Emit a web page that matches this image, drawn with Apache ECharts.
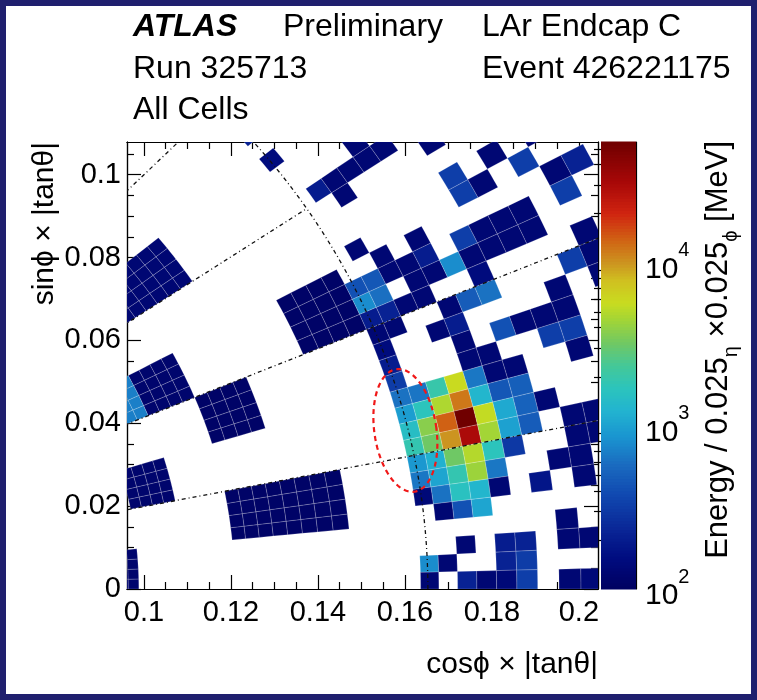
<!DOCTYPE html>
<html>
<head>
<meta charset="utf-8">
<title>LAr Endcap C - cell energies</title>
<script src="https://cdn.jsdelivr.net/npm/echarts@6/dist/echarts.min.js"></script>
<style>
html, body { margin: 0; padding: 0; background: #ffffff; }
#chart { width: 757px; height: 700px; }
</style>
</head>
<body>
<div id="chart"></div>
<script>
// ---------------------------------------------------------------
// Binning: 0.025 in eta (bin 0 starts at eta = 2.51), 2*pi/256 in phi
// ---------------------------------------------------------------
const ETA_ORIGIN = 2.51;
const ETA_STEP = 0.025;
const PHI_STEP = 2 * Math.PI / 256;

// Plot ranges
const X_RANGE = [0.0961, 0.2044];
const Y_RANGE = [0, 0.1079];
const Z_RANGE = [100, 55000];

// Tick positions
const xMajorTicks = [0.1, 0.12, 0.14, 0.16, 0.18, 0.2];
const xMinorTicks = [0.105, 0.11, 0.115, 0.125, 0.13, 0.135, 0.145, 0.15, 0.155,
                     0.165, 0.17, 0.175, 0.185, 0.19, 0.195];
const yMajorTicks = [0, 0.02, 0.04, 0.06, 0.08, 0.1];
const yMinorTicks = [0.005, 0.01, 0.015, 0.025, 0.03, 0.035, 0.045, 0.05, 0.055,
                     0.065, 0.07, 0.075, 0.085, 0.09, 0.095, 0.105];
const zLabelTicks = [100, 1000, 10000];
const zMajorTicks = [1000, 10000];
const zMinorTicks = [200, 300, 400, 500, 600, 700, 800, 900,
                     2000, 3000, 4000, 5000, 6000, 7000, 8000, 9000,
                     20000, 30000, 40000, 50000];

// Inner wheel: coarse cells spread over 4x4 fine bins (eta bin range, phi bin range, MeV)
const blockEtaFrom = [8, 0, 8, 12, 16, 16, 4, 20];
const blockEtaTo   = [15, 3, 11, 15, 19, 19, 11, 23];
const blockPhiFrom = [24, 16, 12, 16, 16, 8, 4, 0];
const blockPhiTo   = [27, 19, 15, 19, 19, 11, 7, 3];
const blockEnergy  = [130, 110, 110, 120, 700, 120, 110, 120];

// Outer wheel, main cluster: [eta bin, phi bin, energy MeV]
const clusterCells = [
  [-1, 14, 150], [-1, 13, 200], [-1, 12, 320],
  [-1, 11, 620], [-2, 11, 640], [-3, 11, 2000], [-4, 11, 5800], [-5, 11, 650], [-6, 11, 130], [-7, 11, 130],
  [-1, 10, 950], [-2, 10, 1700], [-3, 10, 4800], [-4, 10, 12000], [-5, 10, 1300], [-6, 10, 450], [-7, 10, 500],
  [-1, 9, 1500], [-2, 9, 3800], [-3, 9, 14000], [-4, 9, 55000], [-5, 9, 5500], [-6, 9, 1100], [-7, 9, 520], [-8, 9, 130],
  [-1, 8, 1900], [-2, 8, 3200], [-3, 8, 10000], [-4, 8, 30000], [-5, 8, 4500], [-6, 8, 1000], [-7, 8, 480],
  [-1, 7, 900], [-2, 7, 1200], [-3, 7, 3200], [-4, 7, 5000], [-5, 7, 1700], [-6, 7, 300],
  [-1, 6, 650], [-2, 6, 1050], [-3, 6, 1900], [-4, 6, 4300], [-5, 6, 650],
  [-1, 5, 140], [-2, 5, 620], [-3, 5, 1600], [-4, 5, 1300], [-5, 5, 130],
  [-2, 4, 130], [-3, 4, 420], [-4, 4, 1050]
];

// Outer wheel, low-phi cells
const lowPhiCells = [
  [-8, 3, 130],
  [-3, 2, 130], [-5, 2, 200], [-6, 2, 220], [-8, 2, 130], [-9, 2, 130],
  [-1, 1, 800], [-2, 1, 130], [-5, 1, 220], [-6, 1, 320],
  [-1, 0, 130], [-3, 0, 220], [-4, 0, 130], [-5, 0, 140], [-6, 0, 330], [-8, 0, 130], [-9, 0, 140],
  [-9, 8, 130], [-10, 8, 130], [-9, 7, 130], [-10, 7, 130], [-8, 6, 130], [-9, 6, 130],
  [-9, 5, 130], [-7, 5, 180]
];

// Outer wheel, high-phi cells
const highPhiCells = [
  [-5, 12, 130], [-6, 12, 130], [-9, 12, 330], [-10, 12, 330], [-10, 11, 130],
  [-5, 13, 130], [-7, 13, 420], [-8, 13, 130], [-9, 13, 130], [-10, 13, 130],
  [-4, 14, 130], [-5, 14, 200], [-10, 14, 130], [-12, 14, 130],
  [-1, 15, 130], [-2, 15, 130], [-5, 15, 130], [-6, 15, 480], [-7, 15, 620], [-11, 15, 330], [-12, 15, 130],
  [-1, 16, 200], [-2, 16, 220], [-3, 16, 130], [-4, 16, 130], [-7, 16, 150], [-12, 16, 130],
  [-1, 17, 800], [-2, 17, 600], [-4, 17, 130], [-5, 17, 130], [-6, 17, 800], [-7, 17, 130], [-8, 17, 130], [-9, 17, 130], [-10, 17, 130],
  [-1, 18, 420], [-2, 18, 450], [-3, 18, 130], [-4, 18, 130], [-5, 18, 200], [-7, 18, 330], [-8, 18, 130], [-9, 18, 130], [-10, 18, 130], [-12, 18, 330],
  [-3, 19, 130], [-5, 19, 130], [-12, 19, 130], [-13, 19, 220],
  [-2, 20, 130], [-8, 20, 330], [-9, 20, 130], [-11, 20, 330],
  [-8, 21, 330], [-10, 21, 130], [-12, 21, 130],
  [-3, 23, 130], [-8, 23, 130],
  [-2, 24, 200], [-3, 24, 130], [-4, 24, 130], [-5, 24, 130], [-6, 24, 130],
  [-5, 25, 130],
  [-1, 27, 150], [-1, 29, 220]
];

// Dash-dot guides: radial lines (phi, r from, r to) and the eta = 2.5 wheel boundary
const guidePhi   = [Math.PI / 16, Math.PI / 8, 3 * Math.PI / 16, Math.PI / 4];
const guideRFrom = [0.05, 0.05, 0.05, 0.05];
const guideRTo   = [0.30, 0.30, 0.16528, 0.16528];
const guideArcEta = [2.5];

// Dashed ellipse: centre (x, y), half sizes (x, y units), tilt in degrees
const ellipseShape = [0.16011, 0.03827, 0.00713, 0.01494, -8.5];

// Colour palette (fraction of log range -> colour)
const paletteStops = [
  [0.00, '#000060'], [0.07, '#000c80'], [0.14, '#0a2898'], [0.21, '#1048b0'],
  [0.28, '#1a6cc0'], [0.34, '#1a94d0'], [0.40, '#22b4d0'], [0.45, '#2cc4bc'],
  [0.50, '#44c898'], [0.55, '#70c864'], [0.60, '#a0d438'], [0.64, '#c8dc20'],
  [0.69, '#d0c020'], [0.73, '#cc9420'], [0.78, '#d06414'], [0.84, '#d02410'],
  [0.91, '#a80808'], [1.00, '#700000']
];

const FONT = '"Liberation Sans", Arial, Helvetica, sans-serif';

function hexToRgb(h) {
  return [parseInt(h.slice(1, 3), 16), parseInt(h.slice(3, 5), 16), parseInt(h.slice(5, 7), 16)];
}
function paletteColor(f) {
  f = Math.max(0, Math.min(1, f));
  for (let i = 1; i < paletteStops.length; i++) {
    if (f <= paletteStops[i][0]) {
      const a = paletteStops[i - 1], b = paletteStops[i];
      const t = (f - a[0]) / (b[0] - a[0]);
      const ca = hexToRgb(a[1]), cb = hexToRgb(b[1]);
      const c = ca.map((v, k) => Math.round(v + (cb[k] - v) * t));
      return 'rgb(' + c.join(',') + ')';
    }
  }
  return paletteStops[paletteStops.length - 1][1];
}
function energyColor(e) {
  const lo = Math.log10(Z_RANGE[0]), hi = Math.log10(Z_RANGE[1]);
  return paletteColor((Math.log10(e) - lo) / (hi - lo));
}

// Outline of one (eta, phi) bin in the (cos phi |tan theta|, sin phi |tan theta|) plane
function binOutline(n, j) {
  const etaLo = ETA_ORIGIN + n * ETA_STEP;
  const rOut = 1 / Math.sinh(etaLo);
  const rIn = 1 / Math.sinh(etaLo + ETA_STEP);
  const p0 = j * PHI_STEP;
  const pts = [];
  const seg = 3;
  for (let s = 0; s <= seg; s++) {
    const p = p0 + PHI_STEP * s / seg;
    pts.push([rOut * Math.cos(p), rOut * Math.sin(p)]);
  }
  for (let s = seg; s >= 0; s--) {
    const p = p0 + PHI_STEP * s / seg;
    pts.push([rIn * Math.cos(p), rIn * Math.sin(p)]);
  }
  return pts;
}

// Expand coarse inner-wheel cells into fine bins
const blockCells = [];
for (let b = 0; b < blockEnergy.length; b++) {
  for (let n = blockEtaFrom[b]; n <= blockEtaTo[b]; n++) {
    for (let j = blockPhiFrom[b]; j <= blockPhiTo[b]; j++) {
      blockCells.push([n, j, blockEnergy[b]]);
    }
  }
}
const allCells = blockCells.concat(clusterCells, lowPhiCells, highPhiCells);

const guideData = [];
for (let i = 0; i < guidePhi.length; i++) guideData.push([0, guidePhi[i], guideRFrom[i], guideRTo[i]]);
for (let i = 0; i < guideArcEta.length; i++) guideData.push([1, guideArcEta[i], 0, 1.0]);

// Colour bar slices
const barSlices = [];
const NSLICE = 150;
for (let i = 0; i < NSLICE; i++) {
  const v0 = Z_RANGE[0] * Math.pow(Z_RANGE[1] / Z_RANGE[0], i / NSLICE);
  const v1 = Z_RANGE[0] * Math.pow(Z_RANGE[1] / Z_RANGE[0], (i + 1) / NSLICE);
  barSlices.push([0, v0, v1]);
}

const axisLineStyle = { color: '#000', width: 1.2 };
const tickStyle = { color: '#000', width: 1.2 };

function frameXAxis(position, ticks, len, withLabels) {
  return {
    gridIndex: 0, type: 'value', min: X_RANGE[0], max: X_RANGE[1], position: position,
    axisLine: { show: true, onZero: false, lineStyle: axisLineStyle },
    axisTick: { show: true, inside: true, length: len, customValues: ticks, lineStyle: tickStyle },
    axisLabel: withLabels ? {
      show: true, customValues: ticks, margin: 9, fontSize: 29, color: '#000', fontFamily: FONT
    } : { show: false },
    splitLine: { show: false }
  };
}
function frameYAxis(position, ticks, len, withLabels) {
  return {
    gridIndex: 0, type: 'value', min: Y_RANGE[0], max: Y_RANGE[1], position: position,
    axisLine: { show: true, onZero: false, lineStyle: axisLineStyle },
    axisTick: { show: true, inside: true, length: len, customValues: ticks, lineStyle: tickStyle },
    axisLabel: withLabels ? {
      show: true, customValues: ticks, margin: 6, fontSize: 29, color: '#000', fontFamily: FONT
    } : { show: false },
    splitLine: { show: false }
  };
}

const chart = echarts.init(document.getElementById('chart'), null, { renderer: 'canvas' });

const option = {
  backgroundColor: '#ffffff',
  animation: false,
  grid: [
    { left: 127, top: 142, width: 471, height: 447, show: false },
    { left: 601, top: 142, width: 35, height: 447, show: false }
  ],
  xAxis: [
    frameXAxis('bottom', xMajorTicks, 14, true),
    frameXAxis('bottom', xMinorTicks, 7, false),
    frameXAxis('top', xMajorTicks, 14, false),
    frameXAxis('top', xMinorTicks, 7, false),
    { gridIndex: 1, type: 'value', min: 0, max: 1, show: false }
  ],
  yAxis: [
    frameYAxis('left', yMajorTicks, 14, true),
    frameYAxis('left', yMinorTicks, 7, false),
    frameYAxis('right', yMajorTicks, 14, false),
    frameYAxis('right', yMinorTicks, 7, false),
    {
      gridIndex: 1, type: 'log', logBase: 10, min: Z_RANGE[0], max: Z_RANGE[1], position: 'right',
      axisLine: { show: true, onZero: false, lineStyle: axisLineStyle },
      axisTick: { show: true, inside: true, length: 14, customValues: zMajorTicks, lineStyle: tickStyle },
      axisLabel: {
        show: true, customValues: zLabelTicks, margin: 9,
        formatter: function (v) {
          return '{b|10}{s|' + Math.round(Math.log10(v)) + '}';
        },
        rich: {
          b: { fontSize: 30, fontFamily: FONT, color: '#000', lineHeight: 44, verticalAlign: 'bottom' },
          s: { fontSize: 20, fontFamily: FONT, color: '#000', lineHeight: 20, verticalAlign: 'top' }
        }
      },
      splitLine: { show: false }
    },
    {
      gridIndex: 1, type: 'log', logBase: 10, min: Z_RANGE[0], max: Z_RANGE[1], position: 'right',
      axisLine: { show: false },
      axisTick: { show: true, inside: true, length: 7, customValues: zMinorTicks, lineStyle: tickStyle },
      axisLabel: { show: false },
      splitLine: { show: false }
    }
  ],
  series: [
    {
      name: 'cells',
      type: 'custom',
      xAxisIndex: 0, yAxisIndex: 0,
      clip: true,
      silent: true,
      z: 2,
      data: allCells,
      renderItem: function (params, api) {
        const pts = binOutline(api.value(0), api.value(1)).map(function (p) { return api.coord(p); });
        return {
          type: 'polygon',
          shape: { points: pts },
          style: { fill: energyColor(api.value(2)), stroke: 'rgba(255,255,255,0.28)', lineWidth: 0.7 }
        };
      }
    },
    {
      name: 'guides',
      type: 'custom',
      xAxisIndex: 0, yAxisIndex: 0,
      clip: true,
      silent: true,
      z: 5,
      data: guideData,
      renderItem: function (params, api) {
        const kind = api.value(0);
        const pts = [];
        if (kind === 0) {
          const phi = api.value(1), r0 = api.value(2), r1 = api.value(3);
          pts.push(api.coord([r0 * Math.cos(phi), r0 * Math.sin(phi)]));
          pts.push(api.coord([r1 * Math.cos(phi), r1 * Math.sin(phi)]));
        } else {
          const r = 1 / Math.sinh(api.value(1));
          const p0 = api.value(2), p1 = api.value(3);
          for (let s = 0; s <= 80; s++) {
            const p = p0 + (p1 - p0) * s / 80;
            pts.push(api.coord([r * Math.cos(p), r * Math.sin(p)]));
          }
        }
        return {
          type: 'polyline',
          shape: { points: pts },
          style: { fill: null, stroke: '#111', lineWidth: 1.3, lineDash: [4, 3, 1, 3] }
        };
      }
    },
    {
      name: 'ellipse',
      type: 'custom',
      xAxisIndex: 0, yAxisIndex: 0,
      clip: true,
      silent: true,
      z: 6,
      data: [ellipseShape],
      renderItem: function (params, api) {
        const c = api.coord([api.value(0), api.value(1)]);
        const sz = api.size([api.value(2), api.value(3)]);
        const t = api.value(4) * Math.PI / 180;
        const pts = [];
        for (let s = 0; s <= 120; s++) {
          const a = 2 * Math.PI * s / 120;
          const ex = sz[0] * Math.cos(a), ey = sz[1] * Math.sin(a);
          pts.push([c[0] + ex * Math.cos(t) - ey * Math.sin(t), c[1] + ex * Math.sin(t) + ey * Math.cos(t)]);
        }
        return {
          type: 'polyline',
          shape: { points: pts },
          style: { fill: null, stroke: '#f01818', lineWidth: 2.2, lineDash: [5, 4] }
        };
      }
    },
    {
      name: 'palette',
      type: 'custom',
      xAxisIndex: 4, yAxisIndex: 4,
      silent: true,
      data: barSlices,
      renderItem: function (params, api) {
        const a = api.coord([0, api.value(1)]);
        const b = api.coord([1, api.value(2)]);
        const mid = Math.sqrt(api.value(1) * api.value(2));
        return {
          type: 'rect',
          shape: { x: a[0], y: b[1] - 0.5, width: b[0] - a[0], height: a[1] - b[1] + 1 },
          style: { fill: energyColor(mid) }
        };
      }
    }
  ],
  graphic: [
    { type: 'rect', silent: true, z: 100,
      shape: { x: 0, y: 0, width: 757, height: 700 },
      style: { fill: null, stroke: '#1f1f6e', lineWidth: 12 } },
    { type: 'text', x: 133, y: 27, silent: true,
      style: { text: 'ATLAS', font: 'italic bold 32px ' + FONT, fill: '#000', verticalAlign: 'middle' } },
    { type: 'text', x: 283, y: 27, silent: true,
      style: { text: 'Preliminary', font: '32px ' + FONT, fill: '#000', verticalAlign: 'middle' } },
    { type: 'text', x: 482, y: 27, silent: true,
      style: { text: 'LAr Endcap C', font: '32px ' + FONT, fill: '#000', verticalAlign: 'middle' } },
    { type: 'text', x: 133, y: 69, silent: true,
      style: { text: 'Run 325713', font: '32px ' + FONT, fill: '#000', verticalAlign: 'middle' } },
    { type: 'text', x: 482, y: 69, silent: true,
      style: { text: 'Event 426221175', font: '32px ' + FONT, fill: '#000', verticalAlign: 'middle' } },
    { type: 'text', x: 133, y: 110, silent: true,
      style: { text: 'All Cells', font: '32px ' + FONT, fill: '#000', verticalAlign: 'middle' } },
    { type: 'text', x: 598, y: 665, silent: true,
      style: { text: 'cos\u03D5 \u00D7 |tan\u03B8|', font: '30px ' + FONT, fill: '#000', align: 'right', verticalAlign: 'middle' } },
    { type: 'text', x: 45, y: 142, rotation: Math.PI / 2, silent: true,
      style: { text: 'sin\u03D5 \u00D7 |tan\u03B8|', font: '30px ' + FONT, fill: '#000', align: 'right', verticalAlign: 'middle' } },
    { type: 'text', x: 722, y: 141, rotation: Math.PI / 2, silent: true,
      style: {
        text: '{m|Energy / 0.025}{u|\u03B7}{m| \u00D70.025}{u|\u03D5}{m| [MeV]}',
        align: 'right', verticalAlign: 'middle',
        rich: {
          m: { fontSize: 31, fontFamily: FONT, fill: '#000', lineHeight: 38, verticalAlign: 'top' },
          u: { fontSize: 20, fontFamily: FONT, fill: '#000', lineHeight: 20, verticalAlign: 'bottom' }
        }
      } }
  ]
};

chart.setOption(option);
</script>
</body>
</html>
